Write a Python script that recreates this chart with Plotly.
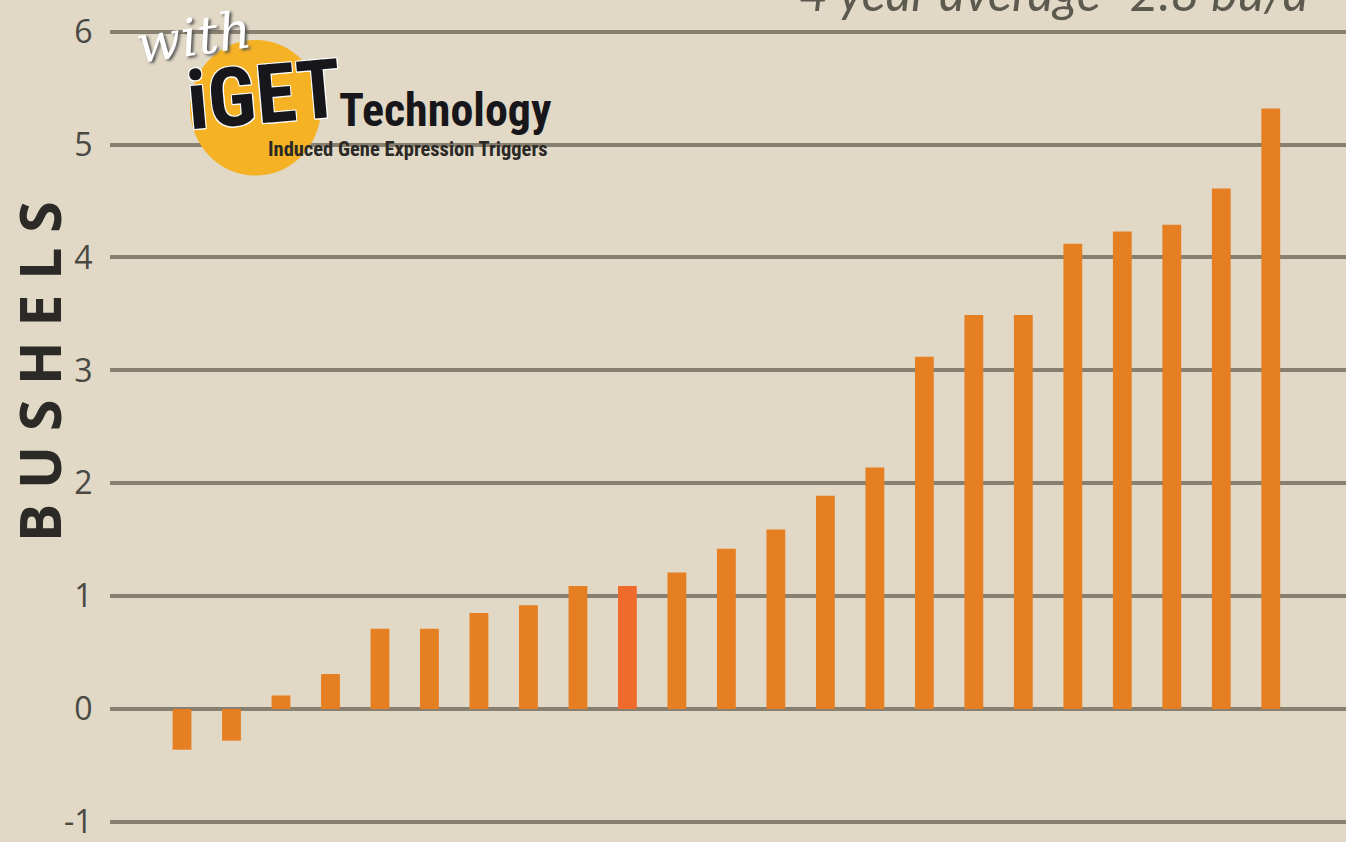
import plotly.graph_objects as go

# ---- data ----
trials = [f"Trial {i}" for i in range(1, 24)]
yield_gain = [-0.36, -0.28, 0.12, 0.31, 0.71, 0.71, 0.85, 0.92, 1.09, 1.09,
              1.21, 1.42, 1.59, 1.89, 2.14, 3.12, 3.49, 3.49, 4.12, 4.23,
              4.29, 4.61, 5.32]
highlight_index = 9
tick_vals = [-1, 0, 1, 2, 3, 4, 5, 6]
tick_text = ["-1", "0", "1", "2", "3", "4", "5", "6"]
y_title = "B U S H E L S"
avg_text = "4 year average=2.8 bu/a"

BG = "#E1D8C6"
BAR = "#E67E22"
BAR_HI = "#F06A2B"
GRID = "#877F6F"

W, H = 1346, 842
L = 110

def px2x(px):
    return (px - L) / (W - L)

def py2y(py):
    return 1 - py / H

colors = [BAR_HI if i == highlight_index else BAR for i in range(len(yield_gain))]

fig = go.Figure(go.Bar(
    x=list(range(len(trials))),
    y=yield_gain,
    customdata=trials,
    marker=dict(color=colors, line=dict(width=0)),
    width=0.38,
    hovertemplate="%{customdata}: %{y}<extra></extra>",
))

fig.update_layout(
    width=W, height=H,
    margin=dict(l=L, r=0, t=0, b=0),
    paper_bgcolor=BG, plot_bgcolor=BG,
    showlegend=False,
    xaxis=dict(range=[-1.455, 23.52], visible=False, fixedrange=True),
    yaxis=dict(
        range=[-1.16, 6.28],
        tickvals=tick_vals, ticktext=tick_text,
        showgrid=True, gridcolor=GRID, gridwidth=3.5,
        zeroline=False, showline=False,
        ticks="outside", ticklen=10, tickcolor=BG,
        ticklabeloverflow="allow",
        tickfont=dict(family="Open Sans, sans-serif", size=32, color="#4a4843"),
    ),
    font=dict(family="Open Sans, sans-serif"),
)

# y-axis title
fig.add_annotation(
    text=y_title, xref="paper", yref="paper",
    x=px2x(39), y=py2y(373), xanchor="center", yanchor="middle",
    textangle=-90, showarrow=False,
    font=dict(family="Open Sans, sans-serif", size=57, color="#2b2a27", weight="bold"),
)

# average text (clipped at top)
fig.add_annotation(
    text=avg_text, xref="paper", yref="paper",
    x=px2x(1310), y=py2y(-8), xanchor="right", yanchor="middle",
    showarrow=False,
    font=dict(family="Lato, sans-serif", size=50, color="#5c594f", style="italic"),
)

# logo: circle
fig.add_shape(
    type="circle", xref="paper", yref="paper", layer="above",
    x0=px2x(190), x1=px2x(321), y0=py2y(176), y1=py2y(40),
    fillcolor="#F5B225", line=dict(width=0),
)

narrow = "Liberation Sans Narrow, Roboto Condensed, Roboto, sans-serif"

fig.add_annotation(
    text="with", xref="paper", yref="paper",
    x=px2x(194), y=py2y(37), xanchor="center", yanchor="middle",
    textangle=-8, showarrow=False,
    font=dict(family="DejaVu Serif, serif", size=52, color="#ffffff", style="italic",
              shadow="2px 2px 3px #555"),
)
fig.add_annotation(
    text="iGET", xref="paper", yref="paper",
    x=px2x(264), y=py2y(95), xanchor="center", yanchor="middle",
    textangle=-5, showarrow=False,
    font=dict(family=narrow, size=82, color="#17161a", weight="bold",
              shadow="1px 1px 0 #fff, -1px -1px 0 #fff, 1px -1px 0 #fff, -1px 1px 0 #fff"),
)
fig.add_annotation(
    text="Technology", xref="paper", yref="paper",
    x=px2x(337), y=py2y(110), xanchor="left", yanchor="middle",
    showarrow=False,
    font=dict(family=narrow, size=46, color="#17161a", weight="bold"),
)
fig.add_annotation(
    text="Induced Gene Expression Triggers", xref="paper", yref="paper",
    x=px2x(549), y=py2y(149), xanchor="right", yanchor="middle",
    showarrow=False,
    font=dict(family=narrow, size=20.5, color="#2a2926", weight="bold"),
)

fig.write_html("out.html")
